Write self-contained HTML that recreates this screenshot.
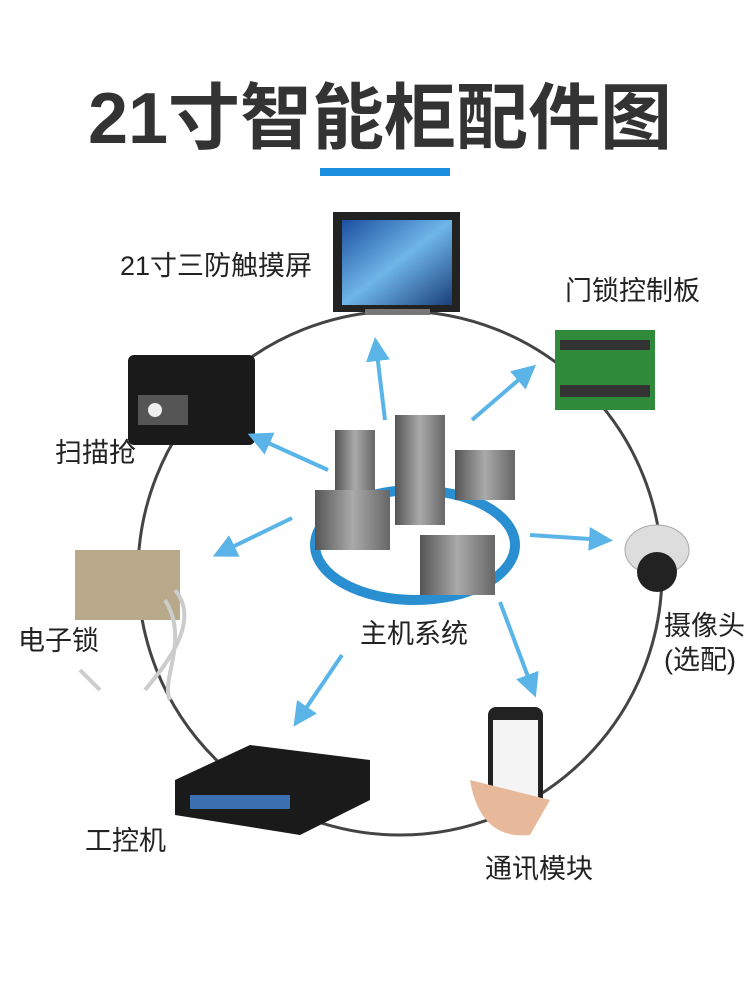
<!DOCTYPE html>
<html><head><meta charset="utf-8"><style>
html,body{margin:0;padding:0;background:#fff;}
body{width:750px;height:993px;overflow:hidden;position:relative;font-family:"Liberation Sans","Noto Sans CJK SC",sans-serif;}
svg{position:absolute;left:0;top:0;}
text{font-family:"Liberation Sans","Noto Sans CJK SC",sans-serif;fill:#222;}
</style></head><body>
<svg width="750" height="993" viewBox="0 0 750 993">
<defs>
<marker id="ah" markerWidth="6" markerHeight="6" refX="4" refY="3" orient="auto" markerUnits="strokeWidth">
<path d="M0,0 L6,3 L0,6 z" fill="#5ab4e8"/></marker>
<linearGradient id="scr" x1="0" y1="0" x2="1" y2="1"><stop offset="0" stop-color="#1b4fa0"/><stop offset="0.5" stop-color="#6fb6e8"/><stop offset="1" stop-color="#1a3f7a"/></linearGradient>
<linearGradient id="srv" x1="0" y1="0" x2="1" y2="0"><stop offset="0" stop-color="#555"/><stop offset="0.5" stop-color="#aaa"/><stop offset="1" stop-color="#666"/></linearGradient>
</defs>
<text x="380" y="143" font-size="72" font-weight="bold" text-anchor="middle" style="fill:#333">21寸智能柜配件图</text>
<rect x="320" y="168" width="130" height="8" fill="#1a8fe0"/>
<circle cx="400" cy="573" r="262" fill="none" stroke="#444" stroke-width="3"/>
<rect x="333" y="212" width="127" height="100" fill="#222"/>
<rect x="342" y="220" width="110" height="85" fill="url(#scr)"/>
<rect x="365" y="309" width="65" height="6" fill="#777"/>
<rect x="555" y="330" width="100" height="80" fill="#2f8a3a"/>
<rect x="560" y="340" width="90" height="10" fill="#333"/>
<rect x="560" y="385" width="90" height="12" fill="#333"/>
<rect x="128" y="355" width="127" height="90" rx="6" fill="#1a1a1a"/>
<rect x="138" y="395" width="50" height="30" fill="#555"/>
<circle cx="155" cy="410" r="7" fill="#eee"/>
<rect x="75" y="550" width="105" height="70" fill="#b8a98a"/>
<path d="M175,590 C200,620 170,660 145,690 M165,600 C190,640 160,680 170,700 M100,690 L80,670" stroke="#ccc" stroke-width="4" fill="none"/>
<ellipse cx="657" cy="550" rx="32" ry="25" fill="#ddd" stroke="#aaa"/>
<circle cx="657" cy="572" r="20" fill="#222"/>
<ellipse cx="415" cy="545" rx="100" ry="55" fill="none" stroke="#2a8fd0" stroke-width="10"/>
<rect x="395" y="415" width="50" height="110" fill="url(#srv)"/>
<rect x="335" y="430" width="40" height="60" fill="url(#srv)"/>
<rect x="455" y="450" width="60" height="50" fill="url(#srv)"/>
<rect x="315" y="490" width="75" height="60" fill="url(#srv)"/>
<rect x="420" y="535" width="75" height="60" fill="url(#srv)"/>
<polygon points="175,780 250,745 370,760 370,800 300,835 175,815" fill="#1a1a1a"/>
<rect x="190" y="795" width="100" height="14" fill="#3a6fb0"/>
<rect x="488" y="707" width="55" height="105" rx="8" fill="#222"/>
<rect x="493" y="720" width="45" height="80" fill="#f4f4f4"/>
<path d="M470,780 Q480,840 530,835 L550,800" fill="#e8b89a"/>
<g stroke="#5ab4e8" stroke-width="4" fill="none" marker-end="url(#ah)">
<line x1="385" y1="420" x2="376" y2="345"/>
<line x1="472" y1="420" x2="530" y2="370"/>
<line x1="328" y1="470" x2="255" y2="437"/>
<line x1="292" y1="518" x2="220" y2="553"/>
<line x1="530" y1="535" x2="605" y2="540"/>
<line x1="500" y1="602" x2="533" y2="690"/>
<line x1="342" y1="655" x2="298" y2="720"/>
</g>
<g font-size="27">
<text x="120" y="275">21寸三防触摸屏</text>
<text x="565" y="300">门锁控制板</text>
<text x="55" y="462">扫描抢</text>
<text x="18" y="650">电子锁</text>
<text x="664" y="635">摄像头</text>
<text x="664" y="669">(选配)</text>
<text x="360" y="643">主机系统</text>
<text x="85" y="850">工控机</text>
<text x="485" y="878">通讯模块</text>
</g>
</svg>
</body></html>
